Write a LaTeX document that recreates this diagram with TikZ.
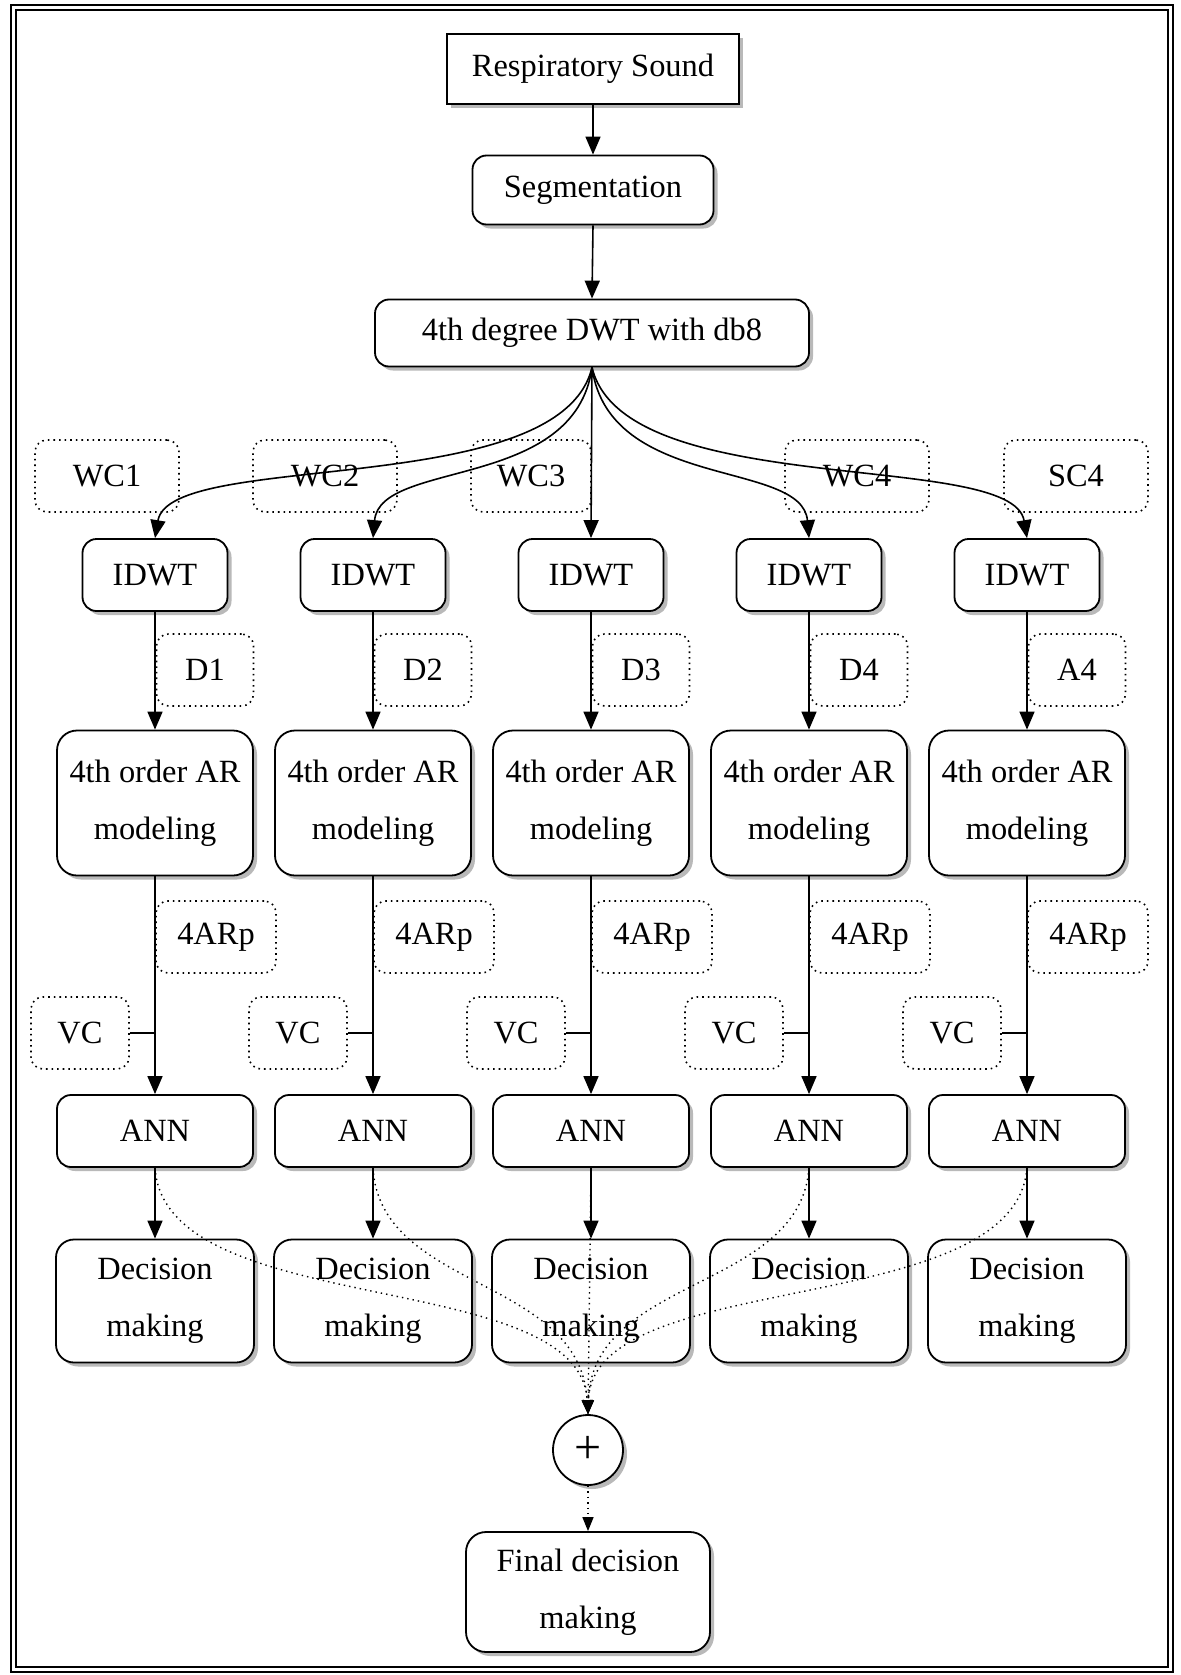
\documentclass[tikz,border=0pt]{standalone}
\usepackage{fontspec}
\setmainfont{Liberation Serif}
\usetikzlibrary{arrows.meta,shadows,positioning}
\newcommand\boxfont{\fontsize{16.2}{28.5}\selectfont}
\begin{document}
\begin{tikzpicture}[x=0.5pt,y=-0.5pt,
  shade/.style={drop shadow={shadow xshift=2pt,shadow yshift=-2pt,fill=gray!55,opacity=1}},
  box/.style={draw,line width=0.9pt,rounded corners=7pt,fill=white,align=center,
    font=\boxfont,inner sep=0pt,shade},
  lbl/.style={draw,dotted,line width=0.8pt,rounded corners=6pt,font=\boxfont,
    inner sep=0pt,minimum height=36pt},
  arr/.style={line width=0.8pt,-{Triangle[length=9pt,width=7.5pt]}},
  darr/.style={line width=0.7pt,dotted,-{Triangle[length=7pt,width=5.5pt]}}]
\useasboundingbox (0,0) rectangle (1180,1675);
% page frame
\draw[line width=1pt] (11,5) rectangle (1173,1672);
\draw[line width=0.6pt] (16,10) rectangle (1168,1667);

% top of the chain
\node[box,rounded corners=0pt,minimum width=146pt,minimum height=35pt] (rs) at (593,69) {Respiratory Sound};
\node[box,minimum width=120.5pt,minimum height=34.5pt] (seg) at (593,190) {Segmentation};
\node[box,minimum width=217pt,minimum height=33.5pt] (dwt) at (592,333) {4th degree DWT with db8};
\draw[arr] (rs.south) -- (seg.north);
\draw[arr] (seg.south) -- (dwt.north);

% five branches
\foreach \i/\cx/\wc/\wx/\ww/\dl in {1/155/WC1/107/72/D1,2/373/WC2/325/72/D2,3/591/WC3/531/60/D3,4/809/WC4/857/72/D4,5/1027/SC4/1076/72/A4}{
  \node[lbl,minimum width=\ww pt] (wc\i) at (\wx,476) {\wc};
  \node[box,minimum width=72.5pt,minimum height=36pt] (idwt\i) at (\cx,575) {IDWT};
  \node[lbl,minimum width=48.5pt] (d\i) at (\cx+50,670) {\dl};
  \node[box,rounded corners=10pt,minimum width=98pt,minimum height=72.5pt] (ar\i) at (\cx,803) {4th order AR\\modeling};
  \node[lbl,minimum width=60pt] (p\i) at (\cx+61,937) {4ARp};
  \node[lbl,minimum width=49pt] (vc\i) at (\cx-75,1033) {VC};
  \node[box,minimum width=98pt,minimum height=36pt] (ann\i) at (\cx,1131) {ANN};
  \node[box,rounded corners=9pt,minimum width=99pt,minimum height=61.5pt] (dm\i) at (\cx,1301) {Decision\\making};
  \draw[arr] (idwt\i.south) -- (ar\i.north);
  \draw[arr] (ar\i.south) -- (ann\i.north);
  \draw[line width=0.8pt] (vc\i.east) -- (vc\i.east -| ar\i.south);
  \draw[arr] (ann\i.south) -- (dm\i.north);
}

% combination and final decision
\node[box,circle,minimum size=35pt,font=\fontsize{24}{24}\selectfont] (sum) at (588,1450) {+};
\node[box,rounded corners=10pt,minimum width=122pt,minimum height=60pt] (fin) at (588,1592) {Final decision\\making};

% wavelet branches leaving the DWT block
\draw[arr] (dwt.south) .. controls +(-32,134) and +(15,-89) .. (idwt1.north);
\draw[arr] (dwt.south) .. controls +(-17,124) and +(7,-79) .. (idwt2.north);
\draw[arr] (dwt.south) -- (idwt3.north);
\draw[arr] (dwt.south) .. controls +(17,124) and +(-7,-79) .. (idwt4.north);
\draw[arr] (dwt.south) .. controls +(32,134) and +(-15,-89) .. (idwt5.north);

% decisions gathered into the sum
\draw[darr] (ann1.south) .. controls +(10,153) and +(-8,-148) .. (sum.north);
\draw[darr] (ann2.south) .. controls +(7,123) and +(-8,-138) .. (sum.north);
\draw[darr] (ann3.south) -- (sum.north);
\draw[darr] (ann4.south) .. controls +(-9,123) and +(4,-138) .. (sum.north);
\draw[darr] (ann5.south) .. controls +(-12,153) and +(4,-148) .. (sum.north);
\draw[darr] (sum.south) -- (fin.north);
\end{tikzpicture}
\end{document}
